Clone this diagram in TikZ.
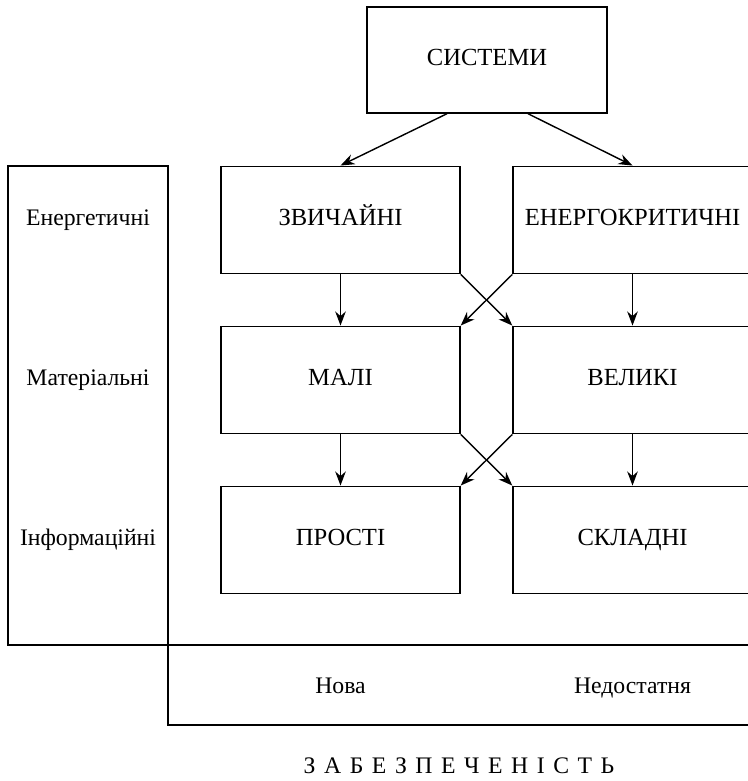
\documentclass[tikz,border=0pt]{standalone}
\usepackage{fontspec}
\setmainfont{Liberation Serif}
\usetikzlibrary{arrows, arrows.meta, positioning}

\begin{document}
\begin{tikzpicture}[>={Stealth[length=8pt,width=6pt]}, rectangle, every node/.style={font=\fontsize{14}{16}\selectfont, text height=1.45ex, text depth=0pt}, node distance=3.2cm, post/.style={->,line width=0.8pt}, box/.style={draw, line width=0.8pt, minimum width=4.78cm, minimum height=2.15cm}, lbl/.style={font=\fontsize{13.5}{16}\selectfont}]

	\useasboundingbox (0,0) rectangle (14.96,-15.62);
	\clip (0,0) rectangle (14.96,-15.62);

	\node [box] (SYS) at (9.74,-1.2) [minimum width=4.8cm, minimum height=2.12cm] {СИСТЕМИ};

	\node [box] (ZV) at (6.81,-4.4) {ЗВИЧАЙНІ};
	\node [box] (EN) [right of=ZV, node distance=5.84cm] {ЕНЕРГОКРИТИЧНІ};
	\node [box] (MA) [below of=ZV] {МАЛІ};
	\node [box] (VE) [below of=EN] {ВЕЛИКІ};
	\node [box] (PR) [below of=MA] {ПРОСТІ};
	\node [box] (SK) [below of=VE] {СКЛАДНІ};

	% resources
	\node [draw, line width=0.8pt, minimum width=3.2cm, minimum height=9.58cm] (RES) at (1.76,-8.11) {};
	\node [lbl] (EE) [left of=ZV, node distance=5.05cm] {Енергетичні};
	\node [lbl] (MM) [left of=MA, node distance=5.05cm] {Матеріальні};
	\node [lbl] (II) [left of=PR, node distance=5.05cm] {Інформаційні};

	% supply
	\node [draw, line width=0.8pt, minimum width=11.84cm, minimum height=1.6cm] (SUP) at (9.28,-13.7) {};
	\node [lbl] (NEW) [below of=PR, node distance=2.96cm] {Нова};
	\node [lbl] (LOW) [below of=SK, node distance=2.96cm] {Недостатня};
	\node [lbl] (ZAB) at (9.18,-15.36) {\spaceskip=0.36em\relax З А Б Е З П Е Ч Е Н І С Т Ь};

	\draw[post] ([xshift=-0.8cm]SYS.south) -- (ZV.north);
	\draw[post] ([xshift=0.82cm]SYS.south) -- (EN.north);

	\draw[post] (ZV) edge (MA);
	\draw[post] (EN) edge (VE);
	\draw[post] (MA) edge (PR);
	\draw[post] (VE) edge (SK);

	\draw[post] (ZV.south east) -- (VE.north west);
	\draw[post] (EN.south west) -- (MA.north east);
	\draw[post] (MA.south east) -- (SK.north west);
	\draw[post] (VE.south west) -- (PR.north east);

\end{tikzpicture}
\end{document}
